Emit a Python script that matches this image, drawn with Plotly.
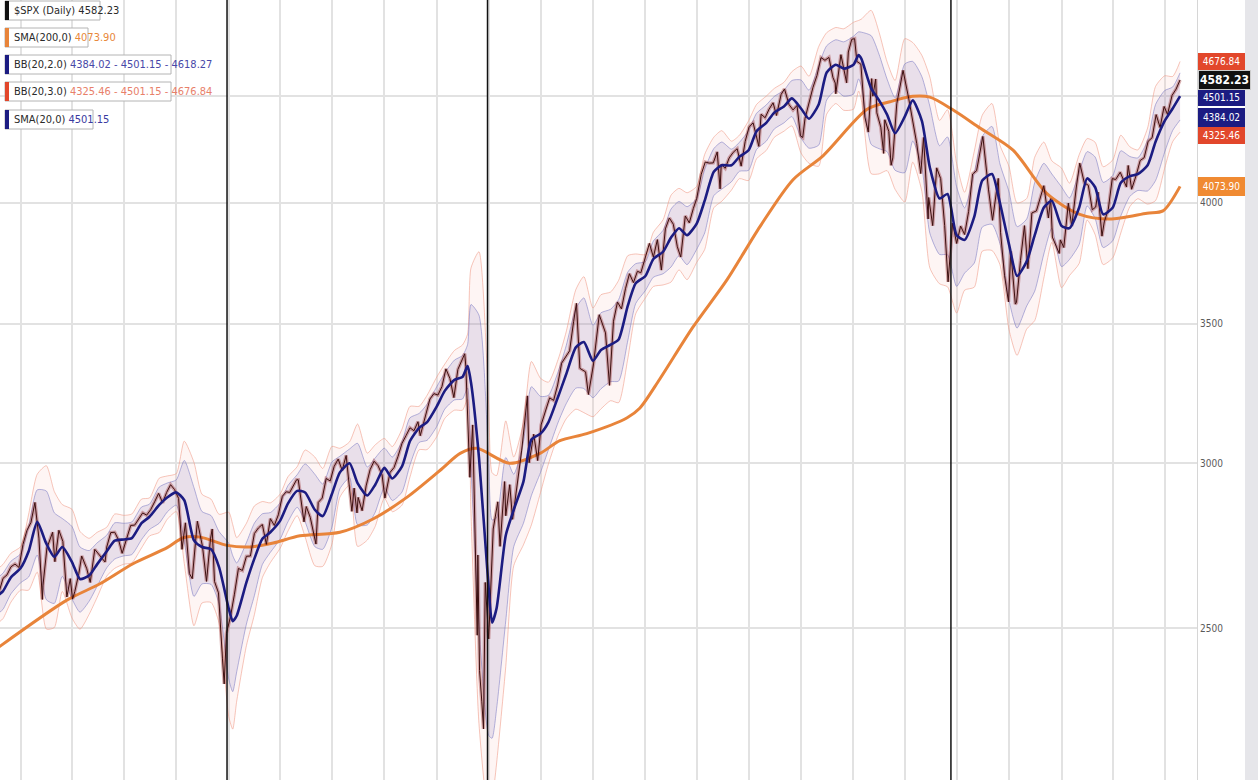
import math

import plotly.graph_objects as go

# ---- data (S&P 500 daily, log scale) ----

price_dates = [
    "2017-11-24", "2017-12-01", "2017-12-08", "2017-12-15", "2017-12-22", "2017-12-29",
    "2018-01-05", "2018-01-12", "2018-01-19", "2018-01-26", "2018-02-02", "2018-02-05", "2018-02-08",
    "2018-02-09", "2018-02-16", "2018-02-26", "2018-03-02", "2018-03-09", "2018-03-16", "2018-03-23",
    "2018-03-29", "2018-04-02", "2018-04-06", "2018-04-13", "2018-04-18", "2018-04-27", "2018-05-03",
    "2018-05-11", "2018-05-18", "2018-05-29", "2018-06-01", "2018-06-08", "2018-06-15", "2018-06-22",
    "2018-06-28", "2018-07-06", "2018-07-13", "2018-07-20", "2018-07-27", "2018-08-03", "2018-08-10",
    "2018-08-17", "2018-08-24", "2018-08-31", "2018-09-07", "2018-09-14", "2018-09-21", "2018-09-28",
    "2018-10-05", "2018-10-11", "2018-10-17", "2018-10-24", "2018-10-29", "2018-11-02", "2018-11-07",
    "2018-11-16", "2018-11-23", "2018-11-30", "2018-12-03", "2018-12-07", "2018-12-14", "2018-12-21",
    "2018-12-24", "2018-12-28",
    "2019-01-04", "2019-01-11", "2019-01-18", "2019-01-25", "2019-02-01", "2019-02-08", "2019-02-15",
    "2019-02-22", "2019-03-01", "2019-03-08", "2019-03-15", "2019-03-22", "2019-03-29", "2019-04-05",
    "2019-04-12", "2019-04-18", "2019-04-30", "2019-05-03", "2019-05-13", "2019-05-17", "2019-05-24",
    "2019-06-03", "2019-06-07", "2019-06-14", "2019-06-21", "2019-06-28", "2019-07-05", "2019-07-12",
    "2019-07-19", "2019-07-26", "2019-08-05", "2019-08-09", "2019-08-14", "2019-08-16", "2019-08-23",
    "2019-08-30", "2019-09-06", "2019-09-13", "2019-09-20", "2019-09-27", "2019-10-02", "2019-10-11",
    "2019-10-18", "2019-10-25", "2019-11-01", "2019-11-08", "2019-11-15", "2019-11-22", "2019-11-29",
    "2019-12-03", "2019-12-13", "2019-12-20", "2019-12-27",
    "2020-01-03", "2020-01-10", "2020-01-17", "2020-01-24", "2020-01-31", "2020-02-07", "2020-02-19",
    "2020-02-21", "2020-02-28", "2020-03-04", "2020-03-09", "2020-03-12", "2020-03-13", "2020-03-16",
    "2020-03-20", "2020-03-23", "2020-03-26", "2020-04-01", "2020-04-09", "2020-04-17", "2020-04-21",
    "2020-04-29", "2020-05-01", "2020-05-08", "2020-05-13", "2020-05-22", "2020-05-29", "2020-06-08",
    "2020-06-11", "2020-06-19", "2020-06-26", "2020-07-02", "2020-07-10", "2020-07-17", "2020-07-24",
    "2020-07-31", "2020-08-07", "2020-08-14", "2020-08-21", "2020-08-28", "2020-09-02", "2020-09-08",
    "2020-09-18", "2020-09-23", "2020-10-02", "2020-10-12", "2020-10-23", "2020-10-30", "2020-11-06",
    "2020-11-13", "2020-11-20", "2020-11-27", "2020-12-04", "2020-12-11", "2020-12-18", "2020-12-24",
    "2020-12-31",
    "2021-01-08", "2021-01-15", "2021-01-22", "2021-01-29", "2021-02-05", "2021-02-12", "2021-02-19",
    "2021-02-26", "2021-03-04", "2021-03-12", "2021-03-19", "2021-03-26", "2021-04-01", "2021-04-09",
    "2021-04-16", "2021-04-23", "2021-04-30", "2021-05-07", "2021-05-12", "2021-05-14", "2021-05-21",
    "2021-05-28", "2021-06-04", "2021-06-11", "2021-06-18", "2021-06-25", "2021-07-02", "2021-07-09",
    "2021-07-19", "2021-07-23", "2021-07-30", "2021-08-06", "2021-08-13", "2021-08-19", "2021-08-27",
    "2021-09-02", "2021-09-10", "2021-09-17", "2021-09-24", "2021-09-30", "2021-10-04", "2021-10-08",
    "2021-10-15", "2021-10-22", "2021-10-29", "2021-11-05", "2021-11-12", "2021-11-19", "2021-11-26",
    "2021-11-30", "2021-12-01", "2021-12-10", "2021-12-20", "2021-12-23", "2021-12-29",
    "2022-01-03", "2022-01-07", "2022-01-14", "2022-01-21", "2022-01-27", "2022-02-02", "2022-02-04",
    "2022-02-09", "2022-02-11", "2022-02-18", "2022-02-23", "2022-02-25", "2022-03-04", "2022-03-08",
    "2022-03-11", "2022-03-18", "2022-03-29", "2022-04-08", "2022-04-14", "2022-04-22", "2022-04-29",
    "2022-05-04", "2022-05-12", "2022-05-13", "2022-05-20", "2022-05-27", "2022-06-03", "2022-06-10",
    "2022-06-16", "2022-06-24", "2022-07-01", "2022-07-08", "2022-07-15", "2022-07-22", "2022-07-29",
    "2022-08-05", "2022-08-16", "2022-08-19", "2022-08-26", "2022-09-02", "2022-09-12", "2022-09-16",
    "2022-09-23", "2022-09-30", "2022-10-04", "2022-10-12", "2022-10-14", "2022-10-21", "2022-10-28",
    "2022-11-03", "2022-11-10", "2022-11-18", "2022-11-25", "2022-12-01", "2022-12-09", "2022-12-13",
    "2022-12-16", "2022-12-28", "2022-12-30",
    "2023-01-05", "2023-01-13", "2023-01-19", "2023-01-27", "2023-02-02", "2023-02-10", "2023-02-17",
    "2023-02-24", "2023-03-02", "2023-03-06", "2023-03-13", "2023-03-17", "2023-03-24", "2023-03-31",
    "2023-04-06", "2023-04-14", "2023-04-25", "2023-04-28", "2023-05-04", "2023-05-12", "2023-05-19",
    "2023-05-26", "2023-06-02", "2023-06-09", "2023-06-16", "2023-06-23", "2023-06-30", "2023-07-06",
    "2023-07-14", "2023-07-21", "2023-07-28",
]
price_close = [
    2602, 2642, 2652, 2676, 2684, 2674,
    2743, 2786, 2810, 2873, 2762, 2649, 2581,
    2620, 2732, 2780, 2691, 2786, 2752, 2588,
    2641, 2582, 2604, 2656, 2708, 2670, 2630,
    2728, 2713, 2690, 2735, 2779, 2780, 2755,
    2716, 2760, 2801, 2802, 2819, 2840, 2833,
    2850, 2875, 2902, 2872, 2905, 2930, 2914,
    2886, 2728, 2809, 2656, 2641, 2723, 2814,
    2736, 2633, 2760, 2790, 2633, 2600, 2417,
    2351, 2486,
    2532, 2596, 2671, 2665, 2707, 2708, 2776,
    2793, 2804, 2743, 2822, 2801, 2834, 2893,
    2907, 2905, 2946, 2946, 2812, 2860, 2826,
    2744, 2873, 2887, 2950, 2942, 2990, 3014,
    2977, 3026, 2845, 2919, 2840, 2889, 2847,
    2926, 2979, 3007, 2992, 2962, 2887, 2970,
    2986, 3023, 3067, 3093, 3120, 3110, 3141,
    3093, 3169, 3221, 3240,
    3235, 3265, 3330, 3295, 3226, 3328, 3386,
    3338, 2954, 3130, 2747, 2481, 2711, 2386,
    2305, 2237, 2630, 2471, 2790, 2875, 2737,
    2940, 2831, 2930, 2820, 2955, 3044, 3232,
    3002, 3098, 3009, 3130, 3185, 3225, 3216,
    3271, 3351, 3373, 3397, 3508, 3580, 3332,
    3319, 3237, 3348, 3535, 3465, 3270, 3510,
    3585, 3558, 3638, 3699, 3663, 3709, 3703,
    3756,
    3825, 3768, 3841, 3714, 3887, 3934, 3907,
    3811, 3768, 3943, 3913, 3975, 4020, 4129,
    4185, 4180, 4181, 4232, 4063, 4174, 4156,
    4204, 4230, 4247, 4166, 4281, 4352, 4370,
    4258, 4412, 4395, 4437, 4468, 4406, 4509,
    4537, 4459, 4433, 4455, 4308, 4300, 4391,
    4471, 4545, 4605, 4697, 4683, 4698, 4595,
    4567, 4513, 4712, 4568, 4726, 4793,
    4796, 4677, 4663, 4398, 4326, 4589, 4501,
    4587, 4419, 4349, 4225, 4385, 4329, 4170,
    4204, 4463, 4631, 4488, 4393, 4272, 4132,
    4300, 3930, 4024, 3901, 4158, 4109, 3901,
    3666, 3912, 3825, 3899, 3863, 3962, 4130,
    4145, 4305, 4228, 4058, 3924, 4110, 3873,
    3693, 3586, 3791, 3577, 3583, 3753, 3901,
    3720, 3956, 3965, 4026, 4077, 3934, 4019,
    3852, 3783, 3840,
    3808, 3999, 3899, 4071, 4180, 4090, 4079,
    3970, 3982, 4048, 3856, 3917, 3971, 4109,
    4105, 4138, 4071, 4169, 4061, 4124, 4192,
    4205, 4282, 4299, 4410, 4348, 4450, 4411,
    4505, 4536, 4582.23,
]

# SMA(20) and the half width of BB(20,2) in percent of the SMA(20)
ma_dates = [
    "2017-11-24", "2017-12-01", "2017-12-15", "2018-01-01", "2018-01-15", "2018-01-30", "2018-02-15",
    "2018-03-01", "2018-03-15", "2018-04-01", "2018-04-15", "2018-05-01", "2018-05-15", "2018-06-01",
    "2018-06-15", "2018-07-01", "2018-07-15", "2018-08-01", "2018-08-15", "2018-09-01", "2018-09-15",
    "2018-10-01", "2018-10-15", "2018-11-01", "2018-11-15", "2018-12-01", "2018-12-15",
    "2019-01-01", "2019-01-08", "2019-01-15", "2019-02-01", "2019-02-15", "2019-03-01", "2019-03-15",
    "2019-04-01", "2019-04-15", "2019-05-01", "2019-05-15", "2019-06-01", "2019-06-15", "2019-07-01",
    "2019-07-15", "2019-08-01", "2019-08-15", "2019-09-01", "2019-09-15", "2019-10-01", "2019-10-15",
    "2019-11-01", "2019-11-15", "2019-12-01", "2019-12-15",
    "2020-01-01", "2020-01-15", "2020-02-01", "2020-02-15", "2020-02-24", "2020-03-01", "2020-03-15",
    "2020-04-01", "2020-04-07", "2020-04-15", "2020-05-01", "2020-05-15", "2020-06-01", "2020-06-15",
    "2020-07-01", "2020-07-15", "2020-08-01", "2020-08-15", "2020-09-01", "2020-09-15", "2020-10-01",
    "2020-10-15", "2020-11-01", "2020-11-15", "2020-12-01", "2020-12-15",
    "2021-01-01", "2021-01-15", "2021-02-01", "2021-02-15", "2021-03-01", "2021-03-15", "2021-04-01",
    "2021-04-15", "2021-05-01", "2021-05-15", "2021-06-01", "2021-06-15", "2021-07-01", "2021-07-15",
    "2021-08-01", "2021-08-15", "2021-09-01", "2021-09-15", "2021-10-01", "2021-10-15", "2021-11-01",
    "2021-11-15", "2021-12-01", "2021-12-15",
    "2022-01-01", "2022-01-10", "2022-01-15", "2022-02-01", "2022-02-15", "2022-03-01", "2022-03-15",
    "2022-04-01", "2022-04-15", "2022-05-01", "2022-05-15", "2022-06-01", "2022-06-15", "2022-07-01",
    "2022-07-15", "2022-08-01", "2022-08-15", "2022-09-01", "2022-09-15", "2022-10-01", "2022-10-15",
    "2022-11-01", "2022-11-15", "2022-12-01", "2022-12-15",
    "2023-01-01", "2023-01-15", "2023-02-01", "2023-02-15", "2023-03-01", "2023-03-15", "2023-04-01",
    "2023-04-15", "2023-05-01", "2023-05-15", "2023-06-01", "2023-06-15", "2023-07-01", "2023-07-15",
    "2023-07-28",
]
sma20 = [
    2595, 2605, 2645, 2672, 2722, 2812, 2745,
    2705, 2735, 2690, 2640, 2650, 2683, 2722,
    2754, 2758, 2762, 2808, 2828, 2865, 2889,
    2905, 2880, 2755, 2735, 2728, 2675,
    2555, 2520, 2535, 2630, 2700, 2760, 2780,
    2815, 2870, 2910, 2905, 2850, 2830, 2900,
    2970, 3000, 2935, 2895, 2930, 2985, 2950,
    2990, 3075, 3120, 3140,
    3195, 3250, 3290, 3300, 3340, 3280, 3020,
    2613, 2516, 2557, 2770, 2850, 2940, 3080,
    3100, 3140, 3230, 3310, 3410, 3430, 3360,
    3400, 3420, 3440, 3570, 3660,
    3690, 3760, 3790, 3850, 3890, 3860, 3910,
    4010, 4140, 4170, 4170, 4210, 4240, 4330,
    4370, 4420, 4450, 4490, 4440, 4390, 4460,
    4620, 4660, 4640,
    4660, 4710, 4690, 4540, 4480, 4410, 4320,
    4400, 4480, 4380, 4160, 4020, 4040, 3860,
    3840, 3940, 4100, 4130, 4000, 3820, 3690,
    3750, 3860, 3980, 4010,
    3900, 3890, 3980, 4110, 4070, 3950, 3980,
    4090, 4120, 4130, 4170, 4280, 4380, 4440,
    4501.15,
]
bb_pct = [
    2.0, 2.0, 1.8, 1.6, 2.8, 3.6, 6.0,
    5.0, 3.2, 4.0, 3.6, 2.8, 2.4, 1.8,
    2.0, 1.8, 1.8, 1.8, 1.4, 2.0, 1.6,
    1.4, 4.5, 6.0, 4.0, 3.8, 4.0,
    7.5, 7.5, 6.0, 4.5, 4.0, 2.8, 2.2,
    2.0, 2.0, 1.8, 3.2, 4.0, 3.6, 3.6,
    1.8, 1.6, 4.5, 3.2, 3.0, 2.2, 2.4,
    2.8, 2.6, 1.6, 2.0,
    2.2, 2.0, 2.2, 2.4, 2.4, 9.0, 17.0,
    15.0, 12.0, 10.5, 9.0, 4.0, 4.5, 6.0,
    4.2, 3.0, 2.8, 3.2, 4.4, 5.0, 4.0,
    4.2, 4.0, 4.5, 3.8, 2.2,
    1.6, 2.0, 2.4, 3.2, 3.0, 3.2, 2.8,
    3.5, 2.6, 2.6, 1.8, 1.6, 2.2, 2.0,
    2.0, 1.8, 1.8, 2.0, 3.2, 3.2, 4.4,
    3.0, 2.8, 3.0,
    3.2, 2.6, 3.0, 6.0, 5.2, 4.0, 4.0,
    6.0, 4.4, 5.0, 7.0, 6.0, 6.5, 5.5,
    3.6, 5.0, 5.0, 5.4, 4.4, 6.0, 5.6,
    4.8, 6.0, 5.0, 3.0,
    4.4, 3.4, 4.0, 3.0, 3.4, 3.6, 3.6,
    3.6, 2.2, 1.8, 2.8, 4.2, 3.4, 2.4,
    2.602,
]

sma200_dates = [
    "2017-11-24", "2018-03-23", "2018-05-20", "2018-07-17", "2018-09-15", "2018-10-13", "2018-11-12",
    "2018-12-29", "2019-02-07", "2019-03-20", "2019-05-06", "2019-07-15", "2019-09-11", "2019-11-10",
    "2020-01-07", "2020-02-11", "2020-03-11", "2020-05-08", "2020-06-30", "2020-08-04", "2020-09-20",
    "2020-11-30", "2020-12-22", "2021-01-26", "2021-03-25", "2021-05-24", "2021-07-21", "2021-09-17",
    "2021-11-09", "2022-01-25", "2022-03-06", "2022-04-15", "2022-05-15", "2022-06-23", "2022-08-11",
    "2022-10-08", "2022-12-07", "2023-02-02", "2023-03-27", "2023-05-31", "2023-06-28", "2023-07-28",
]
sma200 = [
    2449, 2579, 2626, 2685, 2733, 2763, 2765,
    2740, 2735, 2747, 2769, 2780, 2821, 2890,
    2977, 3033, 3050, 3000, 3033, 3076, 3100,
    3155, 3188, 3292, 3486, 3674, 3897, 4104,
    4215, 4436, 4473, 4500, 4496, 4436, 4345,
    4240, 4040, 3950, 3930, 3955, 3965, 4073.90,
]

marker_dates = ["2018-12-29", "2020-03-30", "2022-06-21"]
y_ticks = [2500, 3000, 3500, 4000, 4500]
# the 4500 label sits under the price tags, so it is left blank
y_tick_text = ["2500", "3000", "3500", "4000", ""]

last_close = 4582.23
bb2_vals = [4384.02, 4501.15, 4618.27]
bb3_vals = [4325.46, 4501.15, 4676.84]

# ---- figure ----

W, H = 1258, 780
PLOT_W = 1197

ORANGE = "#e8843a"
NAVY = "#1c1c82"
RED = "#e2472b"
FONT = "'Liberation Sans Narrow', 'DejaVu Sans Condensed', 'Arial Narrow', sans-serif"


def band(mid, pct, k):
    return [m * (1 + k * p / 100.0) for m, p in zip(mid, pct)]


bb3_lo = band(sma20, bb_pct, -1.5)
bb3_up = band(sma20, bb_pct, 1.5)
bb2_lo = band(sma20, bb_pct, -1)
bb2_up = band(sma20, bb_pct, 1)

spl = dict(shape="spline", smoothing=0.6)

fig = go.Figure()
fig.add_trace(go.Scatter(x=ma_dates, y=bb3_lo, mode="lines", hoverinfo="skip",
                         line=dict(color="rgba(238,150,130,0.55)", width=1, **spl)))
fig.add_trace(go.Scatter(x=ma_dates, y=bb3_up, mode="lines", hoverinfo="skip", fill="tonexty",
                         fillcolor="rgba(245,175,165,0.12)",
                         line=dict(color="rgba(238,150,130,0.55)", width=1, **spl)))
fig.add_trace(go.Scatter(x=ma_dates, y=bb2_lo, mode="lines", hoverinfo="skip",
                         line=dict(color="rgba(120,120,195,0.55)", width=1, **spl)))
fig.add_trace(go.Scatter(x=ma_dates, y=bb2_up, mode="lines", hoverinfo="skip", fill="tonexty",
                         fillcolor="rgba(105,95,175,0.14)",
                         line=dict(color="rgba(120,120,195,0.55)", width=1, **spl)))
fig.add_trace(go.Scatter(x=sma200_dates, y=sma200, mode="lines", name="SMA(200)",
                         line=dict(color=ORANGE, width=3, shape="spline", smoothing=0.8)))
fig.add_trace(go.Scatter(x=price_dates, y=price_close, mode="lines", name="$SPX",
                         line=dict(color="rgba(150,35,35,0.35)", width=3.5)))
fig.add_trace(go.Scatter(x=price_dates, y=price_close, mode="lines", hoverinfo="skip",
                         line=dict(color="#3c0f0f", width=1)))
fig.add_trace(go.Scatter(x=ma_dates, y=sma20, mode="lines", name="SMA(20)",
                         line=dict(color=NAVY, width=2.6, **spl)))

shapes = []
for d in marker_dates:
    shapes.append(dict(type="line", xref="x", yref="paper", x0=d, x1=d, y0=0, y1=1,
                       line=dict(color="#111111", width=1.5), layer="above"))

# grey strip at the far right edge of the page
shapes.append(dict(type="rect", xref="paper", yref="paper", x0=1245 / PLOT_W, x1=1.06,
                   y0=0, y1=1, fillcolor="#e6e6ea", line=dict(width=0), layer="below"))

# legend boxes, top-left
legend_rows = [
    (1, 95, "#111111", "$SPX (Daily) 4582.23"),
    (28, 83, ORANGE, "SMA(200,0) <span style='color:#e8883a'>4073.90</span>"),
    (55, 166, NAVY, "BB(20,2.0) <span style='color:#4848a8'>%s - %s - %s</span>"
     % tuple(f"{v:.2f}" for v in bb2_vals)),
    (82, 166, RED, "BB(20,3.0) <span style='color:#e8806a'>%s - %s - %s</span>"
     % tuple(f"{v:.2f}" for v in bb3_vals)),
    (110, 88, NAVY, "SMA(20,0) <span style='color:#3a3aa0'>4501.15</span>"),
]

annotations = []
for top, width, bar, text in legend_rows:
    x0, x1 = 5, 5 + width
    y0, y1 = top, top + 19
    shapes.append(dict(type="rect", xref="paper", yref="paper",
                       x0=x0 / PLOT_W, x1=x1 / PLOT_W, y0=1 - y1 / H, y1=1 - y0 / H,
                       fillcolor="white", line=dict(color="#b4b4b4", width=1), layer="above"))
    shapes.append(dict(type="rect", xref="paper", yref="paper",
                       x0=x0 / PLOT_W, x1=(x0 + 4) / PLOT_W, y0=1 - y1 / H, y1=1 - y0 / H,
                       fillcolor=bar, line=dict(width=0), layer="above"))
    annotations.append(dict(xref="paper", yref="paper", x=(x0 + 7) / PLOT_W, y=1 - (top + 9.5) / H,
                            xanchor="left", yanchor="middle", showarrow=False, text=text,
                            font=dict(family=FONT, size=11, color="#2a2a2a")))

# price tags on the right axis; the BB(20,2) upper tag sits almost fully under
# the last-price tag, so only a sliver of it is drawn
tag_x0, tag_x1 = 1199 / PLOT_W, 1244 / PLOT_W
v = math.log10(bb2_vals[2])
shapes.append(dict(type="rect", xref="paper", yref="y", x0=tag_x0, x1=tag_x1,
                   y0=v - 0.004, y1=v + 0.004, fillcolor=NAVY, line=dict(width=0), layer="above"))

tags = [
    # value, colour, font size, box width, height, shift in px
    (bb3_vals[2], RED, 10, 45, 15, 0),
    (bb3_vals[0], RED, 10, 45, 15, -3),
    (bb2_vals[0], NAVY, 10, 45, 17, 2),
    (bb2_vals[1], NAVY, 10, 45, 15, -1),
    (sma200[-1], "#f08a32", 10, 45, 17, 0),
    (last_close, "#111111", 12, 51, 18, 0),
]
for val, col, fs, w, h, shift in tags:
    is_last = col == "#111111"
    annotations.append(dict(xref="paper", yref="y", x=1, y=math.log10(val), xanchor="left",
                            yanchor="middle", xshift=1, yshift=shift, showarrow=False,
                            text=f"<b>{val:.2f}</b>" if is_last else f"{val:.2f}",
                            font=dict(family=FONT, size=fs, color="white"), bgcolor=col,
                            bordercolor="#cccccc" if is_last else col, borderwidth=1,
                            borderpad=0, width=w, height=h, align="center", valign="middle"))

fig.update_layout(
    width=W, height=H,
    margin=dict(l=0, r=W - PLOT_W, t=0, b=0),
    paper_bgcolor="white", plot_bgcolor="white",
    showlegend=False,
    font=dict(family=FONT, size=10, color="#555555"),
    xaxis=dict(type="date", range=["2017-11-25 17:00", "2023-08-26 17:00"],
               tick0="2018-01-01", dtick="M3", showticklabels=False, ticks="",
               showgrid=True, gridcolor="#e2e2e2", gridwidth=1.5, zeroline=False),
    yaxis=dict(type="log", range=[3.32515, 3.69945], side="right",
               tickvals=y_ticks, ticktext=y_tick_text,
               tickfont=dict(family=FONT, size=10, color="#5a5a5a"),
               showgrid=True, gridcolor="#e2e2e2", gridwidth=1.5, zeroline=False,
               showline=True, linecolor="#d6d6d6", linewidth=1, ticks=""),
    shapes=shapes,
    annotations=annotations,
)

fig.write_html("out.html", config={"displayModeBar": False},
               post_script="document.body.style.margin='0';document.body.style.overflow='hidden';")
